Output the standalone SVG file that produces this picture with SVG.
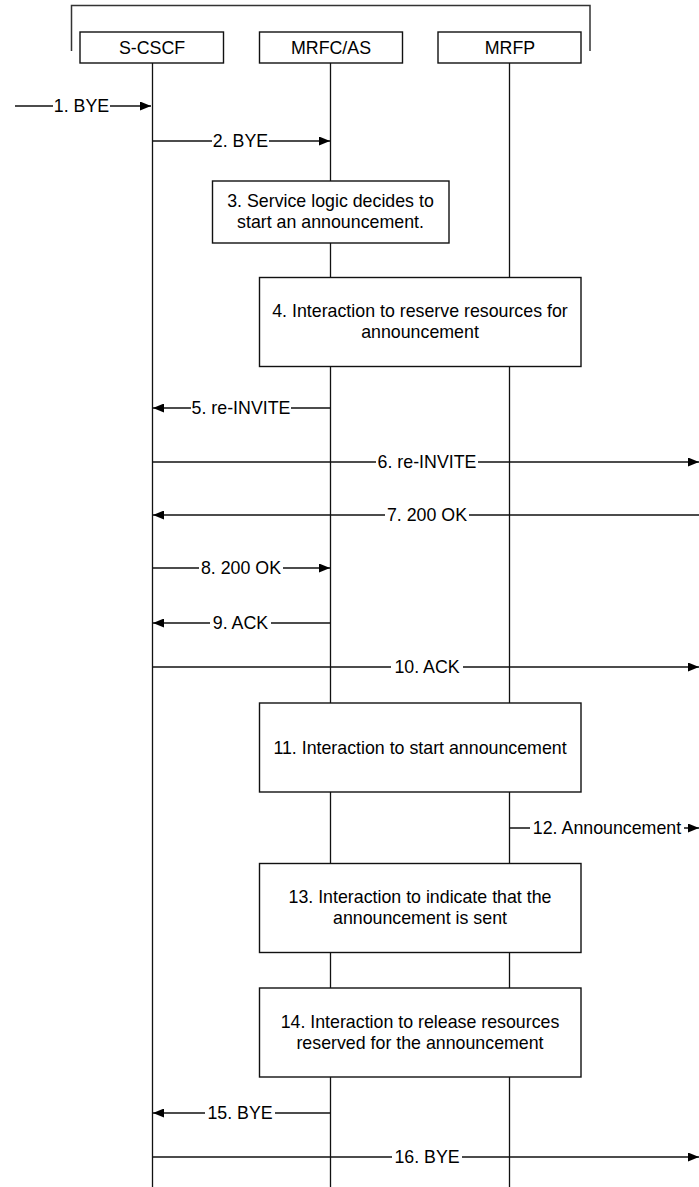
<svg xmlns="http://www.w3.org/2000/svg" width="699" height="1187" viewBox="0 0 699 1187">
<style>
  .ln{stroke:#111;stroke-width:1.3;fill:none}
  .box{fill:#fff;stroke:#111;stroke-width:1.4}
  .t{font-family:"Liberation Sans",Arial,sans-serif;font-size:17.8px;fill:#000;text-anchor:middle}
  .bg{fill:#fff}
</style>
<defs>
  <marker id="ah" viewBox="0 0 11 9" refX="11" refY="4.5" markerWidth="11" markerHeight="9" markerUnits="userSpaceOnUse" orient="auto">
    <path d="M0,0 L11,4.5 L0,9 z" fill="#000"/>
  </marker>
</defs>
<rect width="699" height="1187" fill="#fff"/>
<path d="M71.5,51 V5.5 H590 V51" fill="none" stroke="#333" stroke-width="1.5"/>

<g id="lifelines" class="ln">
  <line x1="152.5" y1="63" x2="152.5" y2="1187"/>
  <line x1="330.5" y1="63" x2="330.5" y2="1187"/>
  <line x1="509.5" y1="63" x2="509.5" y2="1187"/>
</g>

<g id="connectors">
  <g id="m1"><line class="ln" x1="15" y1="106" x2="151" y2="106" marker-end="url(#ah)"/><rect class="bg" x="53" y="98" width="57" height="16"/><text class="t" x="81.5" y="112">1. BYE</text></g>
  <g id="m2"><line class="ln" x1="152.5" y1="141" x2="330" y2="141" marker-end="url(#ah)"/><rect class="bg" x="212" y="133" width="57" height="16"/><text class="t" x="240.5" y="147">2. BYE</text></g>
  <g id="m5"><line class="ln" x1="330.5" y1="408" x2="153" y2="408" marker-end="url(#ah)"/><rect class="bg" x="191" y="400" width="100" height="16"/><text class="t" x="241" y="414">5. re-INVITE</text></g>
  <g id="m6"><line class="ln" x1="152.5" y1="462" x2="699" y2="462" marker-end="url(#ah)"/><rect class="bg" x="376" y="454" width="102" height="16"/><text class="t" x="427" y="468">6. re-INVITE</text></g>
  <g id="m7"><line class="ln" x1="699" y1="515" x2="153" y2="515" marker-end="url(#ah)"/><rect class="bg" x="385" y="507" width="84" height="16"/><text class="t" x="427" y="521">7. 200 OK</text></g>
  <g id="m8"><line class="ln" x1="152.5" y1="568" x2="330" y2="568" marker-end="url(#ah)"/><rect class="bg" x="199" y="560" width="84" height="16"/><text class="t" x="241" y="574">8. 200 OK</text></g>
  <g id="m9"><line class="ln" x1="330.5" y1="623" x2="153" y2="623" marker-end="url(#ah)"/><rect class="bg" x="210" y="615" width="61" height="16"/><text class="t" x="240.5" y="629">9. ACK</text></g>
  <g id="m10"><line class="ln" x1="152.5" y1="667" x2="699" y2="667" marker-end="url(#ah)"/><rect class="bg" x="391" y="659" width="72" height="16"/><text class="t" x="427" y="673">10. ACK</text></g>
  <g id="m12"><line class="ln" x1="509.5" y1="828" x2="699" y2="828" marker-end="url(#ah)"/><rect class="bg" x="530" y="820" width="154" height="16"/><text class="t" x="607" y="834">12. Announcement</text></g>
  <g id="m15"><line class="ln" x1="330.5" y1="1113" x2="153" y2="1113" marker-end="url(#ah)"/><rect class="bg" x="205" y="1105" width="70" height="16"/><text class="t" x="240" y="1119">15. BYE</text></g>
  <g id="m16"><line class="ln" x1="152.5" y1="1157" x2="699" y2="1157" marker-end="url(#ah)"/><rect class="bg" x="392" y="1149" width="70" height="16"/><text class="t" x="427" y="1163">16. BYE</text></g>
</g>

<g id="scscf"><rect class="box" x="80" y="32" width="143.5" height="31"/><text class="t" x="152" y="54">S-CSCF</text></g>
<g id="mrfc"><rect class="box" x="259.5" y="32" width="143" height="31"/><text class="t" x="331" y="54">MRFC/AS</text></g>
<g id="mrfp"><rect class="box" x="438" y="32" width="143" height="31"/><text class="t" x="510" y="54">MRFP</text></g>

<g id="step3"><rect class="box" x="212.5" y="181" width="236.5" height="62"/><text class="t" x="330.5" y="207">3. Service logic decides to</text><text class="t" x="330.5" y="228">start an announcement.</text></g>
<g id="step4"><rect class="box" x="259.5" y="277.5" width="321.5" height="89"/><text class="t" x="420" y="317">4. Interaction to reserve resources for</text><text class="t" x="420" y="338">announcement</text></g>
<g id="step11"><rect class="box" x="259.5" y="703" width="321.5" height="89"/><text class="t" x="420" y="753.5">11. Interaction to start announcement</text></g>
<g id="step13"><rect class="box" x="259.5" y="863.5" width="321.5" height="89"/><text class="t" x="420" y="903">13. Interaction to indicate that the</text><text class="t" x="420" y="924">announcement is sent</text></g>
<g id="step14"><rect class="box" x="259.5" y="988" width="321.5" height="89"/><text class="t" x="420" y="1028">14. Interaction to release resources</text><text class="t" x="420" y="1049">reserved for the announcement</text></g>
</svg>
